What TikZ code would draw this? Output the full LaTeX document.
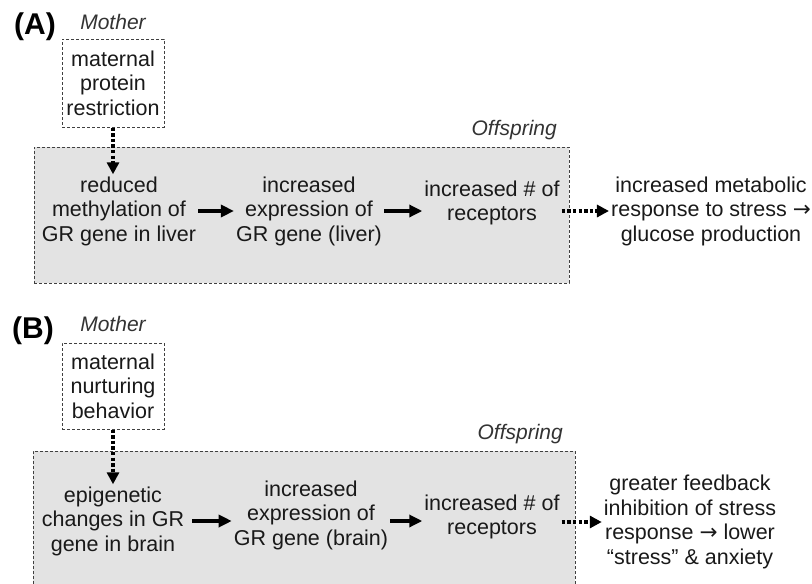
\documentclass[tikz,border=0pt]{standalone}
\usepackage{fontspec}
\setmainfont{Liberation Sans}
\newfontfamily\arrfont{DejaVu Sans}
\newcommand{\rarr}{{\arrfont →}}
\usepackage{tikz}
\usetikzlibrary{arrows.meta,positioning}

\tikzset{
  txt/.style={font=\fontsize{21.5}{24.5}\selectfont,align=center,text=black!90,inner sep=2pt},
  momlbl/.style={font=\fontsize{21}{24.5}\selectfont\itshape,text=black!80,inner sep=0pt},
  panel/.style={font=\fontsize{30}{32}\selectfont\bfseries,inner sep=0pt},
  dbox/.style={draw=black!75,line width=1pt,dash pattern=on 3pt off 2pt},
  solidarr/.style={line width=3.2pt,-{Triangle[length=13pt,width=12pt]}},
  dotarr/.style={line width=3.4pt,dash pattern=on 3.4pt off 2.2pt,-{Triangle[length=12pt,width=12pt]}}
}

\begin{document}
\begin{tikzpicture}[x=1pt,y=-1pt]
\useasboundingbox (0,0) rectangle (812,584);

% panel A
\node[panel] (a_tag) at (35,27) {(A)};
\node[momlbl] (a_mlbl) at (113,22) {Mother};
\node[dbox,txt,minimum width=102pt,minimum height=88pt] (a_mom) at (113,83) {maternal\\protein\\restriction};
\node[dbox,fill=black!11,minimum width=535pt,minimum height=136pt] (a_kid) at (301.5,215) {};
\node[momlbl,anchor=east] (a_klbl) at (557,130) {Offspring};
\node[txt] (a_n1) at (119,211) {reduced\\methylation of\\GR gene in liver};
\node[txt] (a_n2) at (309,211) {increased\\expression of\\GR gene (liver)};
\node[txt] (a_n3) at (492,203) {increased \# of\\receptors};
\node[txt] (a_out) at (711,211) {increased metabolic\\response to stress \rarr\\glucose production};
\draw[dotarr] (a_mom.south) -- (a_mom.south |- a_n1.north);
\draw[solidarr] (a_n1) -- (a_n2);
\draw[solidarr] (a_n2.east) -- (a_n2.east -| a_n3.west);
\draw[dotarr] (a_n3.east |- a_out.west) -- (a_out.west);

% panel B
\node[panel] (b_tag) at (33,331) {(B)};
\node[momlbl] (b_mlbl) at (113,324) {Mother};
\node[dbox,txt,minimum width=102pt,minimum height=86pt] (b_mom) at (113,386) {maternal\\nurturing\\behavior};
\node[dbox,fill=black!11,minimum width=542pt,minimum height=136pt] (b_kid) at (304,519) {};
\node[momlbl,anchor=east] (b_klbl) at (563,434) {Offspring};
\node[txt] (b_n1) at (113,521) {epigenetic\\changes in GR\\gene in brain};
\node[txt] (b_n2) at (311,515) {increased\\expression of\\GR gene (brain)};
\node[txt] (b_n3) at (492,517) {increased \# of\\receptors};
\node[txt] (b_out) at (690,522) {greater feedback\\inhibition of stress\\response \rarr{} lower\\“stress” \& anxiety};
\draw[dotarr] (b_mom.south) -- (b_mom.south |- b_n1.north);
\draw[solidarr,shorten <=6pt] (b_n1.east) -- (b_n1.east -| b_n2.west);
\draw[solidarr] (b_n2.east |- b_n1.east) -- (b_n1.east -| b_n3.west);
\draw[dotarr] (b_n3.east |- b_out.west) -- (b_out.west);
\end{tikzpicture}
\end{document}
